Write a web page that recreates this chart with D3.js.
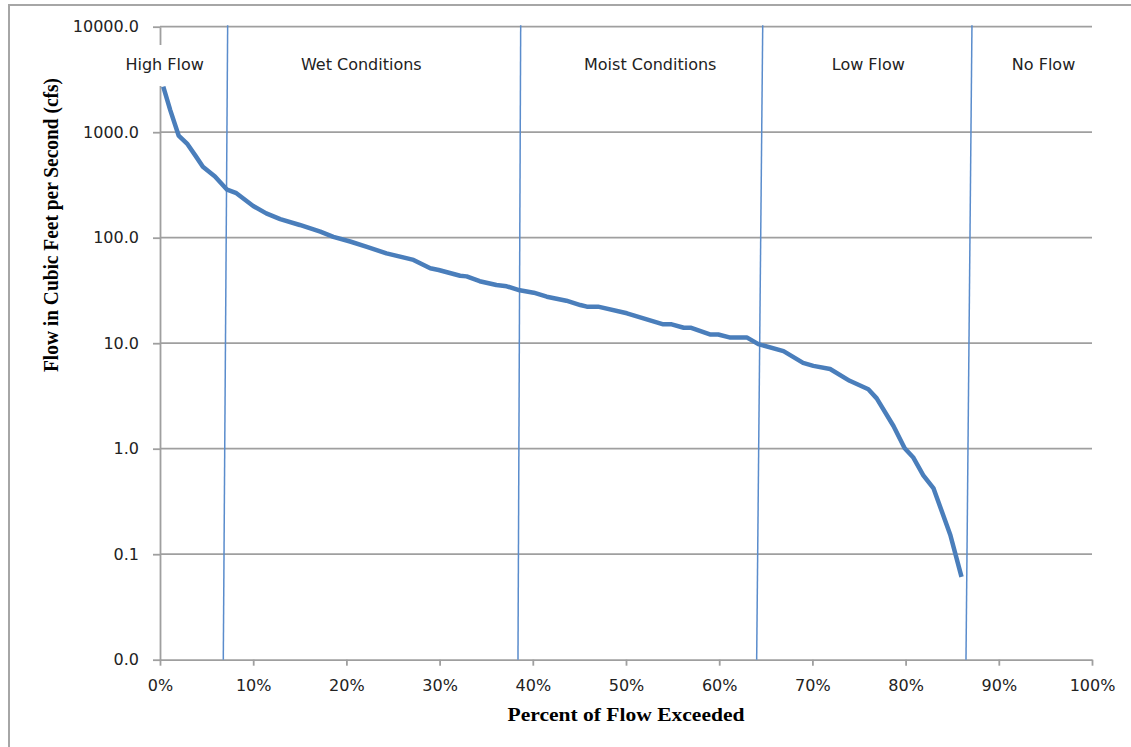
<!DOCTYPE html>
<html>
<head>
<meta charset="utf-8">
<script src="https://cdn.jsdelivr.net/npm/d3@7"></script>
<style>
  html, body { margin: 0; padding: 0; background: #fff; }
  svg { display: block; }
  .tick text, .zone-label { font-family: "DejaVu Sans", sans-serif; font-size: 16px; fill: #222; }
  .axis-title { font-family: "Liberation Serif", "Times New Roman", serif; font-weight: bold; fill: #000; }
</style>
</head>
<body>
<svg id="chart" width="1131" height="747"></svg>
<script>
// Flow duration curve: percent of time a flow is exceeded vs. flow (cfs)
const percentExceeded = [0.35, 1.1, 2.0, 2.9, 3.8, 4.6, 5.9, 7.2, 8.2, 10.0, 11.4, 12.9, 15.0, 17.2, 18.6, 20.4, 22.2, 24.3, 27.2, 29.0, 29.9, 32.2, 32.9, 34.3, 36.1, 37.2, 38.6, 40.1, 41.5, 43.6, 45.1, 45.8, 47.0, 50.1, 54.0, 54.9, 56.2, 57.0, 59.0, 59.9, 61.2, 63.0, 64.2, 66.9, 69.0, 70.1, 71.9, 74.0, 76.0, 76.9, 78.7, 79.9, 80.8, 81.9, 83.0, 84.8, 86.0];
const flowCfs = [2700, 1620, 930, 780, 600, 470, 380, 285, 264, 200, 170, 150, 132, 114, 102, 92, 82, 71, 61.6, 51.3, 49.4, 43.6, 43, 38.7, 35.6, 34.6, 31.7, 30.1, 27.6, 25.3, 23, 22.2, 22.2, 19.2, 15.1, 15.1, 14.0, 14.0, 12.1, 12.1, 11.3, 11.3, 9.8, 8.4, 6.5, 6.1, 5.7, 4.4, 3.66, 3.0, 1.64, 1.01, 0.83, 0.56, 0.42, 0.152, 0.061];

// Flow zones and their boundary lines (percent at top and bottom of the plot)
const zoneNames = ["High Flow", "Wet Conditions", "Moist Conditions", "Low Flow", "No Flow"];
const zoneLabelCenters = [0.5, 21.6, 52.6, 76.0, 94.8];
const boundaryTop = [7.26, 38.7, 64.67, 87.12];
const boundaryBottom = [6.79, 38.41, 64.02, 86.48];

const yTicks = [0.01, 0.1, 1, 10, 100, 1000, 10000];
const xTicks = [0, 10, 20, 30, 40, 50, 60, 70, 80, 90, 100];

const svg = d3.select("#chart");
const plotLeft = 160, plotRight = 1092, plotTop = 26.7, plotBottom = 659.7;

const x = d3.scaleLinear().domain([0, 100]).range([plotLeft, plotRight]);
const y = d3.scaleLog().domain([0.01, 10000]).range([plotBottom, plotTop]);

const gridColor = "#9f9f9f";

// outer frame
svg.append("path")
  .attr("d", "M9,747 L9,5 L1131,5")
  .attr("fill", "none").attr("stroke", "#a6a6a6").attr("stroke-width", 2);

// horizontal gridlines
svg.append("g").selectAll("line").data(yTicks.slice(1)).join("line")
  .attr("x1", plotLeft).attr("x2", plotRight)
  .attr("y1", d => y(d)).attr("y2", d => y(d))
  .attr("stroke", gridColor).attr("stroke-width", 1.8);

// y axis
const yAxis = svg.append("g").attr("transform", `translate(${plotLeft},0)`)
  .call(d3.axisLeft(y).tickValues(yTicks).tickFormat(d3.format(".1f")).tickSize(7).tickSizeOuter(0).tickPadding(14));
yAxis.select(".domain").attr("stroke", gridColor).attr("stroke-width", 1.8);
yAxis.selectAll(".tick line").attr("stroke", gridColor).attr("stroke-width", 1.8);

// x axis
const xAxis = svg.append("g").attr("transform", `translate(0,${plotBottom})`)
  .call(d3.axisBottom(x).tickValues(xTicks).tickFormat(d => d + "%").tickSize(6).tickSizeOuter(0).tickPadding(14));
xAxis.select(".domain").attr("stroke", gridColor).attr("stroke-width", 1.8);
xAxis.selectAll(".tick line").attr("stroke", gridColor).attr("stroke-width", 1.8);
svg.selectAll(".tick text").attr("fill", "#222").style("font-family", "DejaVu Sans, sans-serif").style("font-size", "16px");

// zone boundary lines
svg.append("g").selectAll("line").data(boundaryTop).join("line")
  .attr("x1", d => x(d)).attr("y1", y(10000) - 1.5)
  .attr("x2", (d, i) => x(boundaryBottom[i])).attr("y2", y(0.01))
  .attr("stroke", "#5a8ccc").attr("stroke-width", 1.5);

// flow duration curve
const pts = percentExceeded.map((p, i) => [p, flowCfs[i]]);
svg.append("path")
  .datum(pts)
  .attr("fill", "none")
  .attr("stroke", "#4a7ebb")
  .attr("stroke-width", 4.5)
  .attr("stroke-linejoin", "round")
  .attr("d", d3.line().x(d => x(d[0])).y(d => y(d[1])));

// zone labels (first one sits in a white box over the axis)
svg.append("rect")
  .attr("x", x(0.5) - 46).attr("y", 45).attr("width", 92).attr("height", 41)
  .attr("fill", "#fff");
svg.append("g").selectAll("text").data(zoneNames).join("text")
  .attr("class", "zone-label")
  .attr("x", (d, i) => x(zoneLabelCenters[i]))
  .attr("y", 70)
  .attr("text-anchor", "middle")
  .text(d => d);

// axis titles
svg.append("text").attr("class", "axis-title")
  .attr("x", 626).attr("y", 721).attr("text-anchor", "middle")
  .style("font-size", "18.5px")
  .attr("textLength", 237).attr("lengthAdjust", "spacingAndGlyphs")
  .text("Percent of Flow Exceeded");
svg.append("text").attr("class", "axis-title")
  .attr("transform", "translate(58,225) rotate(-90)")
  .attr("text-anchor", "middle")
  .style("font-size", "21px")
  .attr("textLength", 294).attr("lengthAdjust", "spacingAndGlyphs")
  .text("Flow in Cubic Feet per Second (cfs)");
</script>
</body>
</html>
